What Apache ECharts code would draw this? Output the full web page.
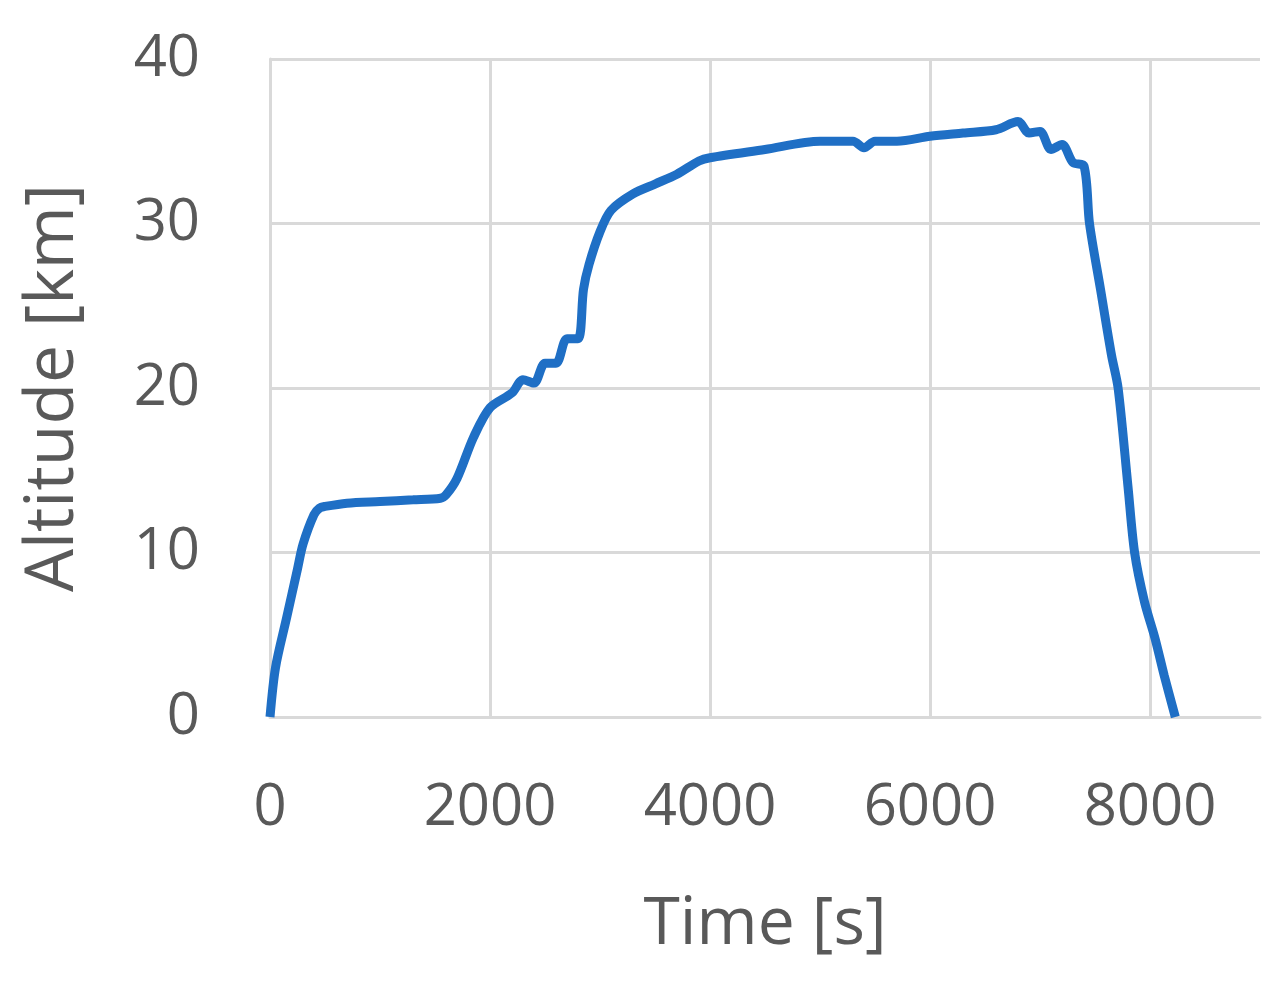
<html>
<head>
<meta charset='utf-8'>
<script src='https://cdn.jsdelivr.net/npm/echarts@6/dist/echarts.min.js'></script>
<style>html,body,#main{width:100%;height:100%;margin:0;background:#fff;}</style>
</head>
<body>
<div id='main'></div>
<script>
var times = [0,50,150,250,300,400,450,500,700,1000,1300,1550,1600,1700,1850,2000,2200,2300,2400,2500,2600,2700,2800,2850,2900,3000,3100,3300,3500,3700,3900,4000,4500,5000,5300,5400,5500,5700,6000,6300,6600,6800,6900,7000,7100,7200,7300,7400,7450,7550,7650,7710,7800,7860,7950,8045,8130,8230];
var altitude = [0,3,6,9,10.5,12.3,12.7,12.8,13,13.1,13.2,13.3,13.5,14.5,17,18.8,19.7,20.5,20.3,21.5,21.5,23,23,26,27.5,29.5,30.8,31.8,32.4,33,33.8,34,34.5,35,35,34.6,35,35,35.3,35.5,35.7,36.2,35.5,35.6,34.5,34.8,33.7,33.5,30,26,22,20,14,10,7,4.8,2.5,0];
var font = 'Open Sans';
var grey = '#595959';
var chart = echarts.init(document.getElementById('main'));
chart.setOption({
  animation: false,
  grid: {left: 270, right: 20, top: 59, bottom: 287},
  xAxis: {
    type: 'value', min: 0, max: 9000, interval: 2000,
    name: 'Time [s]', nameLocation: 'middle', nameGap: 175,
    nameTextStyle: {fontSize: 66, color: grey, fontFamily: font},
    axisLine: {show: true, lineStyle: {color: '#d9d9d9', width: 3}},
    axisTick: {show: false},
    axisLabel: {fontSize: 58, color: grey, fontFamily: font, margin: 62,
      showMaxLabel: false, formatter: function (v) { return String(v); }},
    splitLine: {show: true, showMaxLine: false, lineStyle: {color: '#d9d9d9', width: 3}}
  },
  yAxis: {
    type: 'value', min: 0, max: 40, interval: 10,
    name: 'Altitude [km]', nameLocation: 'middle', nameGap: 182,
    nameTextStyle: {fontSize: 68, color: grey, fontFamily: font},
    axisLine: {show: true, lineStyle: {color: '#d9d9d9', width: 3}},
    axisTick: {show: false},
    axisLabel: {fontSize: 58, color: grey, fontFamily: font, margin: 70},
    splitLine: {lineStyle: {color: '#d9d9d9', width: 3}}
  },
  series: [{
    type: 'line', showSymbol: false, smooth: 0.3,
    data: times.map(function (t, i) { return [t, altitude[i]]; }),
    lineStyle: {color: '#1f6fc5', width: 9}
  }]
});
</script>
</body>
</html>
